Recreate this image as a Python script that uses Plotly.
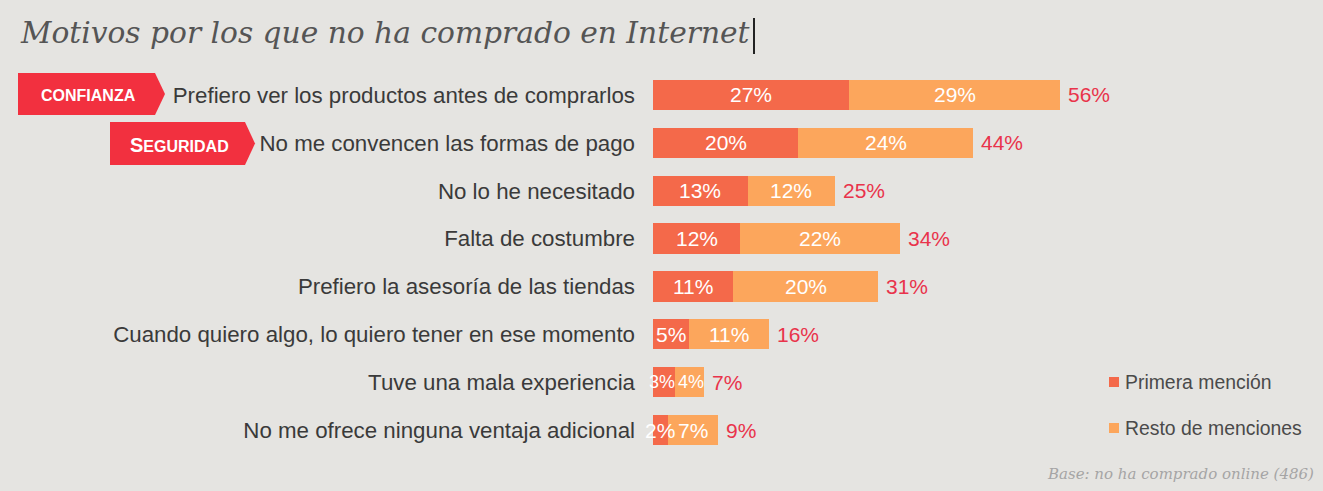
import plotly.graph_objects as go

categorias = [
    "Prefiero ver los productos antes de comprarlos",
    "No me convencen las formas de pago",
    "No lo he necesitado",
    "Falta de costumbre",
    "Prefiero la asesoría de las tiendas",
    "Cuando quiero algo, lo quiero tener en ese momento",
    "Tuve una mala experiencia",
    "No me ofrece ninguna ventaja adicional",
]
primera = [27, 20, 13, 12, 11, 5, 3, 2]
resto = [29, 24, 12, 22, 20, 11, 4, 7]
total = [56, 44, 25, 34, 31, 16, 7, 9]

C_PRIM = "#f4694a"
C_REST = "#fca65c"
C_RED = "#e9334b"
BG = "#e5e4e1"

W, H = 1323, 491
L, R, T, B = 653, 0, 71, 37
PW, PH = W - L - R, H - T - B

def px(x):
    return (x - L) / PW

def py(y):
    return (H - B - y) / PH

SANS = "Liberation Sans, Arial"
SERIF = "DejaVu Serif, serif"

fig = go.Figure()
fig.add_trace(go.Bar(y=categorias, x=primera, orientation="h", marker_color=C_PRIM,
                     marker_line_width=0, name="Primera mención", showlegend=False))
fig.add_trace(go.Bar(y=categorias, x=resto, orientation="h", marker_color=C_REST,
                     marker_line_width=0, name="Resto de menciones", showlegend=False))

ann = []
for c, p, r, t in zip(categorias, primera, resto, total):
    narrow = (p + r) < 8
    fs = 18 if narrow else 21
    sh = 2 if narrow else 0
    ann.append(dict(x=p / 2, y=c, xref="x", yref="y", text=f"{p}%", showarrow=False,
                    xshift=-sh, font=dict(family=SANS, size=fs, color="white")))
    ann.append(dict(x=p + r / 2, y=c, xref="x", yref="y", text=f"{r}%", showarrow=False,
                    xshift=sh, font=dict(family=SANS, size=fs, color="white")))
    ann.append(dict(x=t, y=c, xref="x", yref="y", text=f"{t}%", showarrow=False,
                    xanchor="left", xshift=6,
                    font=dict(family=SANS, size=21, color=C_RED)))

# title
ann.append(dict(x=px(18), y=py(33), xref="paper", yref="paper", xanchor="left", yanchor="middle",
                text="<i>Motivos por los que no ha comprado en Internet</i>", showarrow=False,
                font=dict(family=SERIF, size=29.7, color="#555555")))
# base
ann.append(dict(x=px(1316), y=py(474), xref="paper", yref="paper", xanchor="right", yanchor="middle",
                text="<i>Base: no ha comprado online (486)</i>", showarrow=False,
                font=dict(family=SERIF, size=15, color="#a5a5a5")))
# legend
leg = [("Primera mención", C_PRIM, 382), ("Resto de menciones", C_REST, 428)]
shapes = []
for name, col, yy in leg:
    shapes.append(dict(type="rect", xref="paper", yref="paper", x0=px(1109), x1=px(1119),
                       y0=py(yy + 5), y1=py(yy - 5), fillcolor=col, line_width=0))
    ann.append(dict(x=px(1123), y=py(yy), xref="paper", yref="paper", xanchor="left", yanchor="middle",
                    text=name, showarrow=False,
                    font=dict(family=SANS, size=19.4, color="#4a4a4a")))

# badges
badges = [("CONFIANZA", 18, 155, 165, 73, 115),
          ("<span style='font-size:20px'>S</span>EGURIDAD", 110, 245, 255, 122, 165)]
for txt, x0, x1, tip, y0, y1 in badges:
    ym = (y0 + y1) / 2
    path = (f"M {px(x0)},{py(y0)} L {px(x1)},{py(y0)} L {px(tip)},{py(ym)} "
            f"L {px(x1)},{py(y1)} L {px(x0)},{py(y1)} Z")
    shapes.append(dict(type="path", xref="paper", yref="paper", path=path,
                       fillcolor="#f2303f", line_width=0))
    ann.append(dict(x=px((x0 + x1) / 2 + 2), y=py(ym + 1), xref="paper", yref="paper",
                    xanchor="center", yanchor="middle", text=f"<b>{txt}</b>", showarrow=False,
                    font=dict(family=SANS, size=16, color="white")))

# text cursor after title
shapes.append(dict(type="line", xref="paper", yref="paper", x0=px(754), x1=px(754),
                   y0=py(18), y1=py(54), line=dict(color="#222222", width=2)))

fig.update_layout(
    width=W, height=H, barmode="stack", bargap=0.37,
    margin=dict(l=L, r=R, t=T, b=B),
    paper_bgcolor=BG, plot_bgcolor=BG,
    xaxis=dict(range=[0, PW / 7.27], visible=False, fixedrange=True),
    yaxis=dict(categoryorder="array", categoryarray=categorias, range=[7.5, -0.5],
               showgrid=False, zeroline=False, showline=False, ticks="",
               ticklabelstandoff=17,
               tickfont=dict(family=SANS, size=22.3, color="#3a3a3a")),
    annotations=ann, shapes=shapes, showlegend=False,
)

fig.write_html("out.html")
